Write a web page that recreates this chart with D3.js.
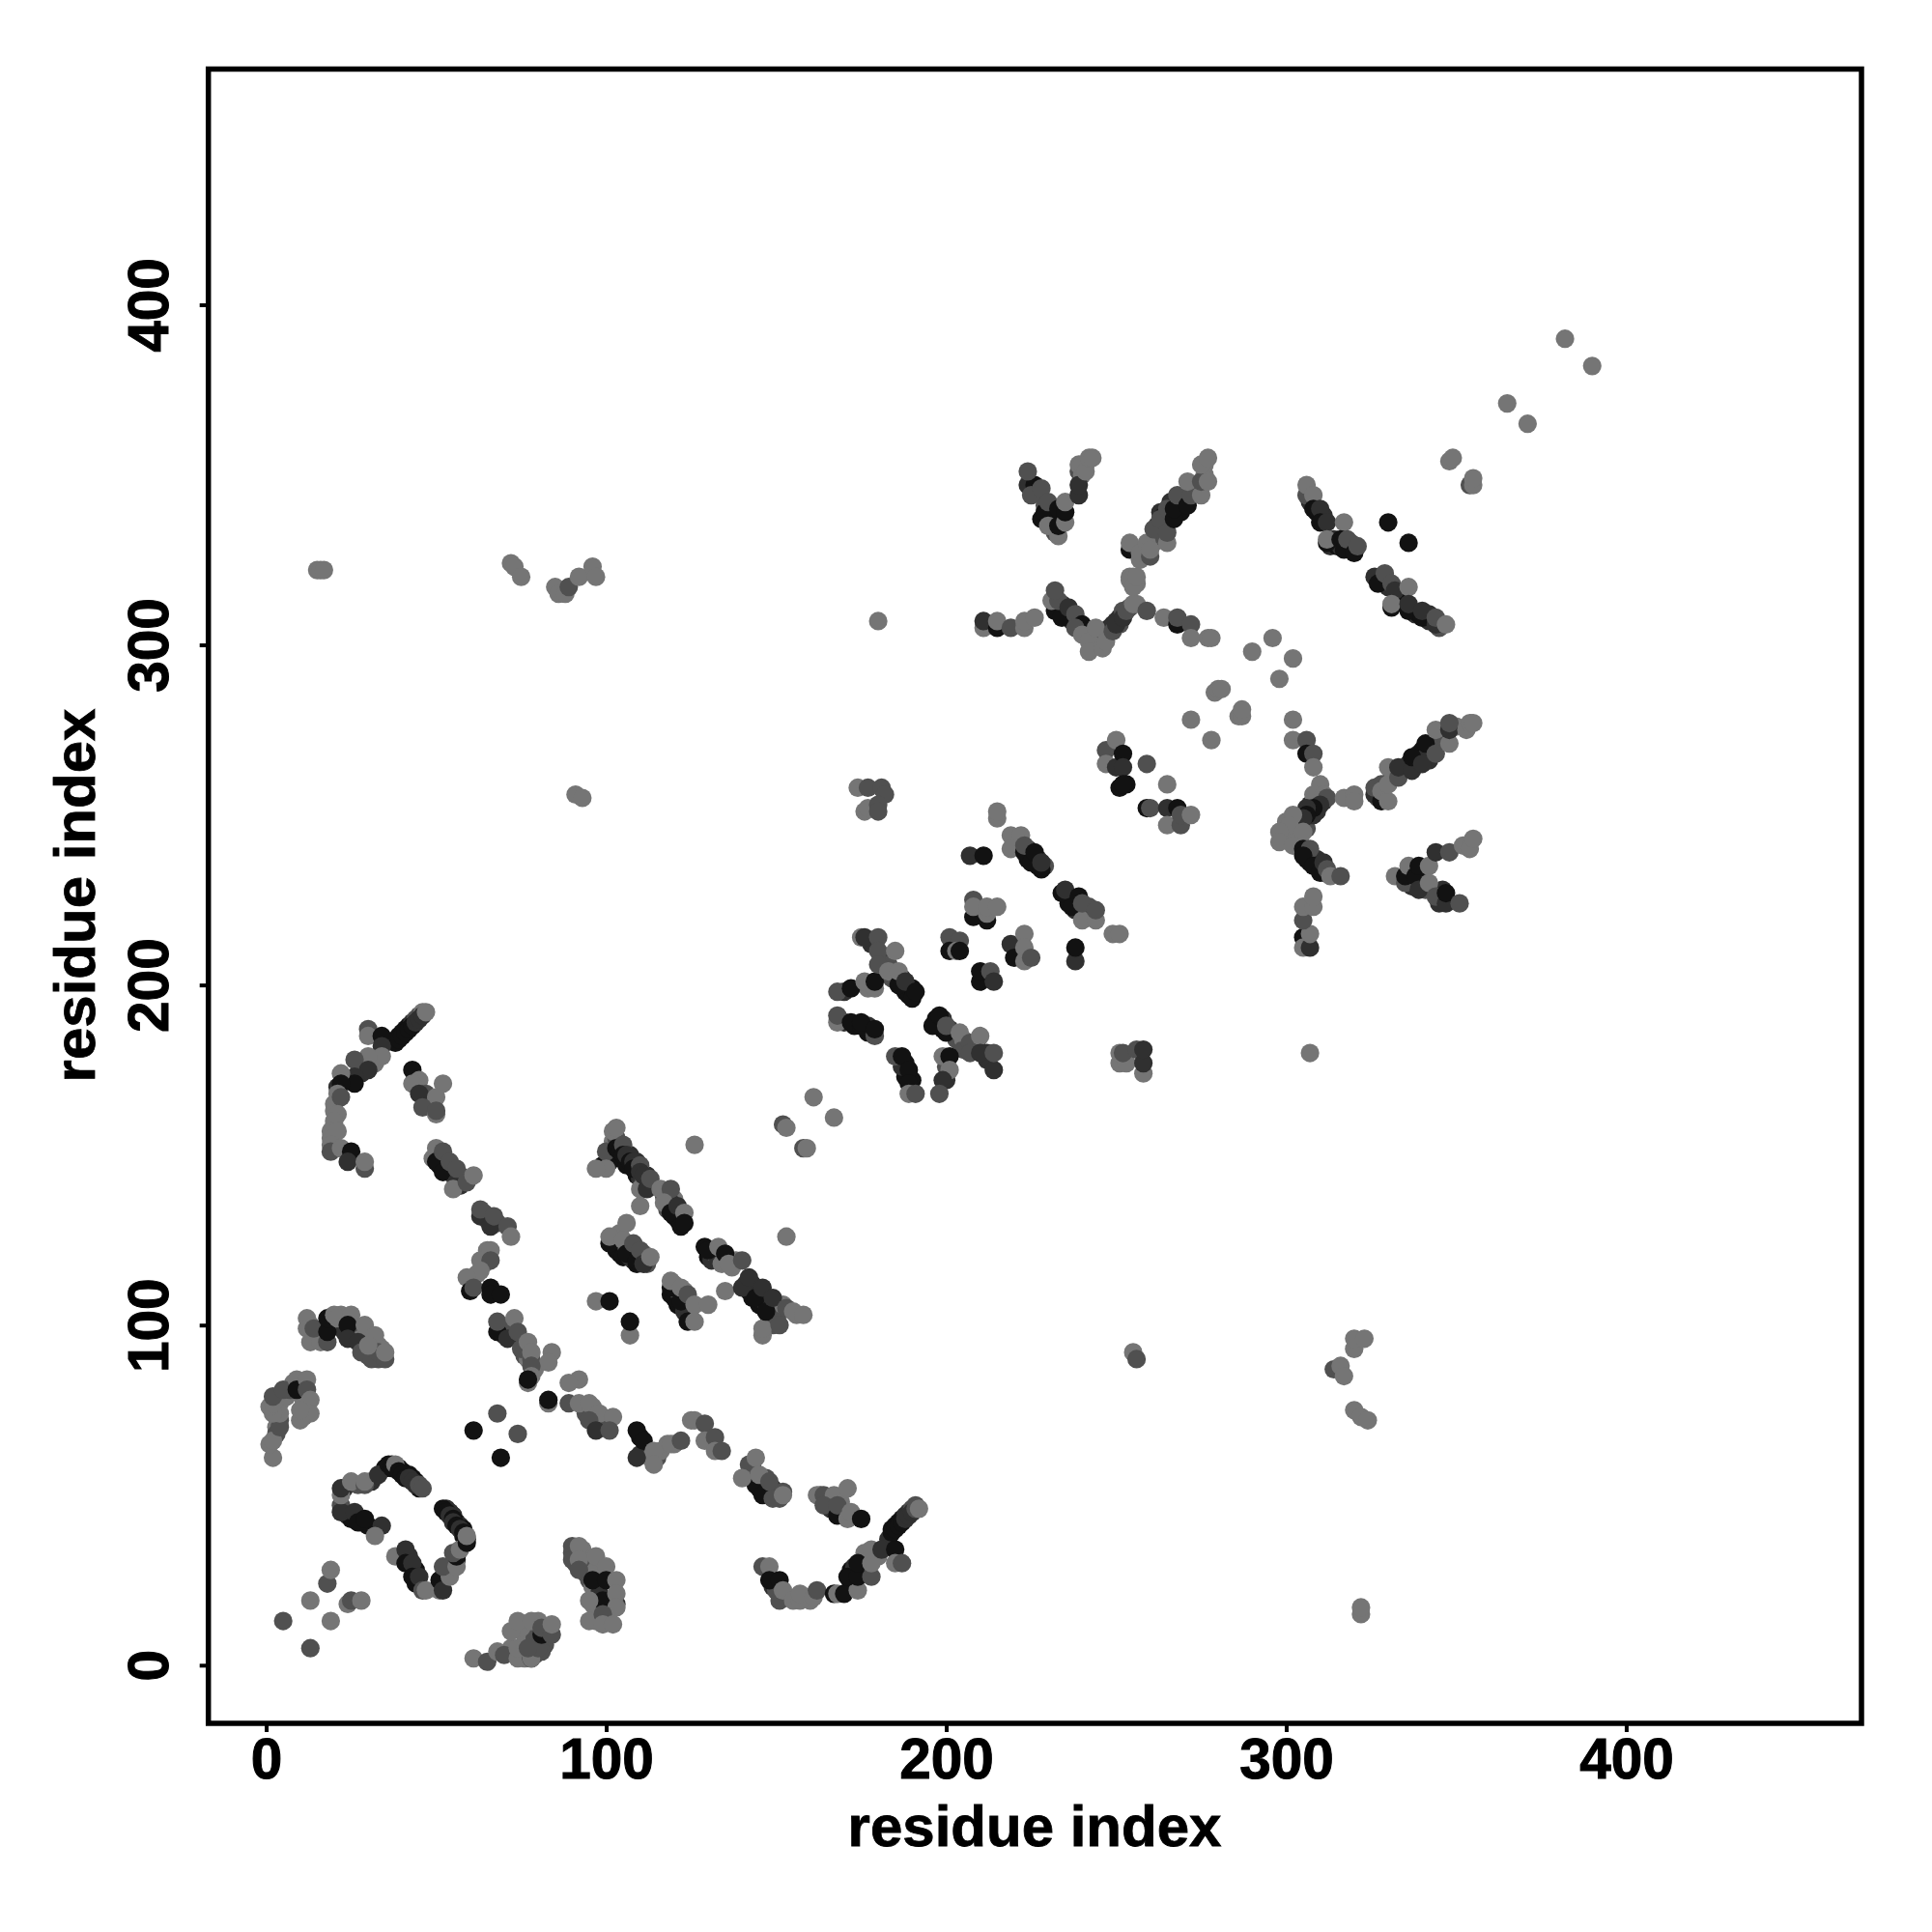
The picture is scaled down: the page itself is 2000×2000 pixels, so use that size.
<!DOCTYPE html>
<html><head><meta charset="utf-8">
<script src="https://cdnjs.cloudflare.com/ajax/libs/d3/7.8.5/d3.min.js"></script>
<style>html,body{margin:0;background:#fff}svg{display:block}text{font-family:"Liberation Sans",Arial,sans-serif;font-weight:700;fill:#000}</style>
</head><body><svg id="c" width="2000" height="2000"></svg>
<script>
// each contact: [residue i, residue j, strength level 1..4]
const xTicks=[0,100,200,300,400];
const yTicks=[0,100,200,300,400];
const axisTitle="residue index";
const denseStrands=[[23,52,3],[27,53,2],[31,54,3],[35,58,4],[37,59,4],[39,58,4],[40,57,4],[41,56,4],[42,56,4],[43,55,4],[44,54,4],[45,52,4],[53,46,3],[54,45,3],[55,44,3],[56,42,4],[57,41,3],[58,40,4],[58,38,4],[59,37,4],[56,31,3],[55,30,2],[53,28,2],[52,26,3],[44,28,4],[42,32,3],[44,24,4],[24,44,3],[25,43,4],[28,42,4],[30,41,4],
[4,72,2],[3,70,1],[3,73,1],[3,78,2],[4,77,1],[6,79,1],[7,81,2],[8,83,1],[11,82,2],[11,78,1],[12,76,1],[11,73,1],[13,100,1],[15,98,1],[16,97,2],[17,96,3],[19,100,3],[20,100,1],[22,103,1],[23,98,3],[25,98,3],[26,97,2],[28,96,1],[29,92,3],[30,91,2],[32,92,2],[33,94,1],[34,93,1],[33,90,2],
[38,183,4],[39,185,4],[40,186,4],[41,187,4],[42,188,4],[43,189,3],[44,190,2],[45,191,2],[46,192,1],[24,172,3],[28,174,3],[28,177,2],[32,177,1],[21,170,3],[20,165,1],[20,163,1],[19,155,1],[20,159,1],[20,152,2],
[50,150,1],[51,149,4],[51,147,4],[53,146,3],[54,146,2],[55,144,2],[57,144,2],[58,143,1],[57,141,3],[65,131,2],[64,133,2],[68,130,2],[65,122,1],[64,118,1],[62,115,1],[70,97,3],[72,100,2],[74,96,2],[76,94,1],[76,91,2],[77,90,1],[78,90,2],[79,87,1],[94,74,2],[96,72,3],[98,71,3],[99,70,2],[96,76,1],[110,67,4],[110,62,3],[115,61,2],[113,61,1],[116,63,1],[118,65,1],[120,65,1],
[143,58,3],[143,56,4],[145,52,4],[147,51,4],[147,55,2],[149,52,3],[150,50,3],[151,49,2],[165,48,2],[166,46,3],[169,45,3],[163,50,2],[169,48,1],[149,23,3],[150,22,2],[153,20,1],[156,20,1],[159,20,1],[160,19,1],[172,24,4],[172,28,4],[173,29,3],[176,28,2],[176,33,1],[183,37,3],[180,32,1],[184,40,4],[185,41,4],[186,42,4],[187,43,4],[188,44,3],[189,45,3],[190,46,2],[191,47,2],
[101,148,3],[102,150,3],[102,154,1],[103,155,2],[104,153,3],[104,149,4],[106,147,4],[107,150,3],[109,148,3],[109,144,4],[110,143,3],[112,142,3],[112,144,3],[111,142,2],[117,138,2],[118,134,2],[118,138,1],[120,132,4],[121,131,4],[120,137,1],[122,133,3],[119,136,3],[103,122,4],[104,121,4],[105,120,4],[106,123,2],[107,122,2],[107,120,3],[108,119,3],[109,118,4],[110,120,2],[111,121,1],[112,119,1],[112,118,2],[103,126,2],[104,127,1],[119,109,4],[120,108,4],[120,112,1],[121,110,2],[121,106,4],[123,108,1],[123,104,3],[123,110,1],[125,105,2],[124,103,3],[130,120,4],[131,119,3],[132,121,2],[133,119,3],[134,118,1],[137,117,1],[138,119,1],[141,112,3],[142,110,4],[143,112,3],[143,108,4],[144,110,3],[145,106,4],[145,109,3],[146,107,4],[147,106,3],[148,102,3],[150,102,2],[151,104,2],[152,106,1],[149,100,2],[156,103,1],
[221,243,1],[224,237,4],[224,240,3],[225,238,4],[226,236,4],[227,237,3],[227,235,4],[229,235,2],[236,226,4],[236,224,4],[238,225,4],[238,222,3],[240,222,3],[242,220,2],[242,223,2],[243,221,3],[170,198,3],[177,199,1],[170,189,3],[173,188,4],[177,186,4],[177,188,3],[178,212,3],[182,208,3],[183,206,2],[184,202,2],[187,202,3],[188,199,4],[188,198,4],[189,197,4],[190,199,4],[197,190,4],[198,188,4],[199,187,4],[199,190,3],[201,187,3],[202,186,2],[203,184,2],[205,184,1],[205,181,2],[209,182,3],[212,180,3],[200,176,2],[200,172,3],[212,178,3],[188,177,4],[188,173,4],[190,172,4],[187,176,3],
[226,345,3],[229,338,3],[231,337,1],[232,333,2],[229,341,2],[233,338,4],[239,351,2],[240,350,1],[241,353,1],[258,328,1],[261,330,1],[262,332,2],[262,335,3],[263,339,3],[264,338,4],[266,342,3],[266,339,4],[269,342,3],[269,339,4],[270,343,3],[273,346,2],[276,350,1],[276,353,1],[234,312,3],[235,309,4],[236,308,4],[237,307,3],[238,307,3],[241,304,2],[243,301,1],[243,303,1],[245,302,1],[246,303,2],[247,304,2],[248,305,3],[249,306,3],[250,307,3],[251,308,3],[251,306,2],[252,310,2],[254,311,2],[256,312,1],[254,320,1],[256,318,1],[255,320,1],
[307,342,3],[309,339,4],[311,338,3],[313,329,3],[314,331,3],[315,329,4],[316,329,3],[319,328,3],[319,330,2],[320,329,3],[328,320,3],[329,319,3],[330,317,3],[333,314,4],[338,309,3],[339,309,4],[342,307,3],[342,309,3],[345,305,2],
[303,249,1],[303,245,1],[304,248,2],[304,243,1],[300,244,1],[300,248,1],[306,246,2],[307,250,3],[307,253,3],[308,250,3],[309,253,3],[309,251,3],[310,255,2],[311,254,3],[306,237,4],[307,236,4],[307,238,3],[309,237,3],[310,235,3],[311,233,3],[338,266,3],[339,268,3],[340,269,4],[341,267,3],[342,270,3],[342,266,3],[345,272,2],[346,274,2],[350,276,1],[332,262,1],[331,261,2],[327,255,2],[326,256,3],[328,259,2],[334,263,2],[336,265,3],[337,229,3],[340,231,3],[341,228,2],[345,224,3],[346,228,3],[337,234,3],
[90,33,2],[91,30,2],[92,33,1],[93,34,1],[93,29,2],[94,27,2],[95,25,2],[96,23,1],[97,28,1],[98,21,3],[97,16,1],[97,13,1],[96,18,1],[101,16,1],[72,5,1],[73,4,1],[75,3,1],[76,2,1],[76,9,1],[79,3,2],[79,8,2],[82,6,2],[81,4,2],[75,11,1],[80,13,1],[82,10,3]];
const lowerLeft=[[5,13,2],[13,5,2],[19,13,1],[13,19,1],[18,24,2],[19,28,1],[24,18,1],[25,19,2],[28,19,1],
[22,47,2],[22,45,3],[22,50,1],[22,52,3],[26,45,3],[27,42,4],[29,43,4],[34,41,3],[32,38,1],[25,54,1],[29,53,2],[29,54,1],[33,56,3],[36,59,4],[37,58,4],[38,59,1],[39,57,4],[40,56,4],[41,55,4],[42,55,3],[43,54,3],[44,53,3],[45,53,2],[46,52,2],
[38,32,1],[41,34,3],[41,30,4],[43,30,3],[43,26,4],[45,26,3],[46,22,2],[47,22,1],[51,22,1],[51,25,4],[52,22,3],[54,26,1],[52,29,2],[56,29,1],[56,32,4],[55,33,2],[57,34,1],[52,46,4],[53,45,4],[54,44,3],[55,43,4],[55,42,3],[56,41,4],[57,40,3],[58,39,4],[59,36,4],[59,38,1]];
const helixLeft=[[2,61,1],[1,65,1],[3,68,2],[2,66,1],[4,70,2],[4,74,1],[2,74,1],[1,76,1],[2,77,1],[2,79,2],[5,81,2],[9,84,1],[9,81,4],[12,84,1],[12,81,2],[13,78,1],[13,74,1],[10,72,1],[10,75,1],[12,102,1],[12,99,1],[13,95,1],[16,95,1],[14,99,2],[18,95,2],[18,98,4],[18,102,4],[20,103,1],[21,102,1],[25,103,1],[24,100,4],[24,96,3],[29,100,1],[27,95,3],[28,92,2],[32,97,1],[31,90,2],[33,92,2],[30,94,1],[35,90,2],[35,92,1]];
const arcTop=[[39,184,4],[40,185,4],[41,186,4],[42,187,4],[43,188,4],[44,189,3],[45,190,3],[46,191,3],[47,192,1],[30,187,2],[30,185,1],[34,185,4],[34,182,3],[34,179,1],[30,179,1],[26,178,2],[30,175,3],[26,173,3],[26,171,4],[22,174,1],[22,171,4],[21,168,1],[22,167,2],[21,162,1],[20,160,1],[19,157,1],[21,157,1],[19,153,1],[19,151,2],[22,152,1],[25,151,4],[24,148,3],[29,146,2],[29,148,1]];
const descending=[[43,175,4],[45,172,1],[43,171,1],[52,171,1],[47,168,2],[45,168,3],[50,167,1],[46,164,2],[50,162,1],[50,163,2],
[49,149,1],[50,152,1],[50,148,4],[52,151,2],[52,145,4],[54,148,2],[56,142,3],[55,140,1],[56,146,2],[59,142,2],[61,144,1],
[63,132,3],[63,134,2],[66,129,3],[67,132,2],[71,129,2],[72,126,1],[66,122,1],[63,119,1],[66,119,2],[63,116,1],[59,114,1],[60,110,4],[61,111,2],[66,111,4],[66,109,4],[69,109,4],
[68,98,4],[68,101,2],[71,96,3],[73,102,1],[74,98,2],[75,93,2],[77,95,1],[78,92,1],[84,92,1],[83,89,1],[78,88,2],[78,85,1],[77,83,1],[77,84,4],
[92,84,1],[89,83,1],[83,77,1],[83,78,4],[89,77,2],[92,77,1],[95,77,1],[98,74,1],[102,73,1],[95,72,2],[97,69,3],[101,69,2],[109,69,4],[111,66,4],[109,61,3],[114,63,1],[114,59,1],[119,65,1],[122,66,2],[125,72,1],
[61,69,4],[68,74,2],[74,68,2],[69,61,4]];
const midStrands=[[126,72,1],[129,71,2],[129,66,1],[132,67,2],[132,63,1],[134,63,2],[144,53,4],[146,50,4],[142,59,2],[144,61,1],[140,55,1],[145,56,1],[148,54,2],[149,49,2],[152,51,2],[152,50,1],
[162,50,1],[164,50,2],[167,50,1],[171,52,1],[164,47,2],[168,44,4],[168,47,2],[171,43,1],[172,45,1],[175,43,4],
[146,29,2],[148,29,1],[148,25,4],[151,25,4],[151,19,2],[152,22,1],[155,19,1],[157,19,1],[157,21,1],[161,20,1],[162,22,2],[167,21,4],[168,21,1],[170,21,4],[174,22,1],[171,26,4],[174,26,4],[178,26,2],[174,30,4],[178,30,1],[178,34,1],[181,34,3],[185,34,4],[185,30,1],[187,30,2],
[184,39,4],[185,40,4],[186,41,4],[187,42,4],[188,43,3],[189,44,3],[190,45,3],[191,46,2],[192,46,1]];
const sheetPairs=[[102,157,1],[103,158,1],[99,147,4],[100,151,2],[100,146,1],[97,146,1],[103,152,4],[104,151,4],[105,153,2],[105,150,4],[106,150,3],[107,148,4],[108,148,3],[108,146,4],[110,147,2],[110,145,3],[110,140,1],[111,144,3],[112,140,3],[113,143,2],[110,135,1],[116,140,1],[119,140,2],[117,136,1],[119,133,4],[121,135,3],[123,133,1],[122,129,4],[123,130,4],
[126,153,1],[152,159,2],[153,158,1],[158,152,2],[159,152,1],[161,167,1],[167,161,1],[153,126,1],
[106,130,1],[101,124,4],[101,126,1],[105,125,1],[106,121,4],[108,124,2],[109,119,4],[110,122,2],[111,118,3],[113,120,1],
[119,111,4],[119,113,1],[122,107,4],[122,111,1],[124,109,2],[124,101,4],[126,106,1],[126,101,1],[130,106,1],[97,107,1],[101,107,4],[107,97,1],[107,101,4],
[129,123,4],[130,122,4],[133,123,1],[135,121,4],[136,118,1],[135,110,1],[140,119,2],[140,111,3],[142,114,3],[144,108,4],[146,111,3],[146,97,1],[146,99,1],[147,104,4],[149,108,3],[151,100,2],[153,105,2],[155,104,1],[158,103,1]];
const centerStrands=[[174,258,1],[177,258,2],[181,258,2],[182,256,2],[176,251,1],[177,252,1],[180,253,2],[180,251,2],
[215,249,1],[215,251,1],[219,244,1],[222,244,1],[219,240,1],[223,239,4],[223,241,2],[225,236,4],[226,239,4],[228,234,4],[228,236,3],
[207,238,3],[211,238,4],[208,220,4],[212,219,4],[208,225,2],[208,223,1],[212,221,1],[212,223,1],[215,223,1],
[201,214,2],[204,213,2],[201,210,4],[203,210,1],[204,210,4],[210,201,4],[210,204,4],[213,204,2],[214,201,3],
[219,212,3],[220,208,4],[223,215,1],[223,211,1],[223,207,1],[225,208,2],[238,207,3],[238,211,4],
[234,227,4],[235,228,3],[237,223,4],[239,226,4],[240,219,1],[240,224,2],[244,219,1],[244,222,2],[249,215,1],[251,215,1],
[168,189,1],[168,191,2],[172,189,4],[175,188,4],[175,189,4],[179,185,2],[179,187,4],[168,198,2],[172,199,4],[176,201,1],[179,199,1],[179,201,4],
[175,214,1],[176,214,3],[180,214,2],[180,210,2],[185,210,1],[180,206,2],[183,204,1],[186,200,4],[186,204,1],[188,201,3],[190,196,4],[191,198,4],
[196,188,4],[198,191,4],[200,186,4],[200,188,2],[204,186,1],[207,183,2],[210,185,1],[207,180,2],[210,180,3],[214,175,3],[214,180,2],
[199,179,1],[201,179,4],[201,175,1],[199,172,3],[198,168,2],[185,179,2],[187,179,4],[189,175,4],[189,171,4],[189,168,1],[191,168,2],
[251,177,1],[251,180,1],[253,177,1],[252,180,2],[256,181,2],[258,174,1],[258,177,3],[258,181,3]];
const upperCenter=[[224,347,3],[226,347,4],[224,351,2],[225,344,2],[228,346,2],[228,337,4],[229,339,4],[230,335,1],[230,342,2],[233,332,1],[233,340,4],[233,335,4],[235,336,1],[235,339,4],[235,342,1],[239,344,3],[239,347,3],[239,353,1],[240,353,1],[241,351,1],[242,355,1],[243,355,1],
[254,328,4],[254,330,1],[257,325,1],[257,327,1],[259,330,1],[260,326,2],[260,328,1],[261,334,2],[263,337,2],[265,330,1],[265,333,2],[265,340,2],[267,337,4],[267,340,4],[268,344,2],[271,341,4],[272,344,2],[271,348,1],[275,344,1],[275,348,2],[277,348,1],[275,353,1],[277,355,1],
[254,319,1],[255,317,1],[256,320,1],[232,310,4],[234,308,4],[231,313,1],[233,313,2],[232,316,2],[236,311,3],[238,309,2],[240,306,4],[238,305,2],[240,303,1],[242,301,1],[242,298,1],[244,305,1],[246,299,1],[247,301,1],[249,304,2],[250,306,3],[252,308,3],[253,310,2],[255,312,1],[259,310,2],
[211,305,1],[211,307,3],[215,305,4],[215,307,1],[219,305,2],[223,305,1],[223,307,1],[226,308,1],[264,308,1],[268,306,4],[268,308,2],[272,306,2],[272,302,1],[277,302,1],[278,302,1],
[290,298,1],[296,302,1],[302,296,1],[298,290,1],[279,286,1],[280,287,1],[281,287,1],[286,279,1],[287,279,1],[287,281,1],[272,278,1],[278,272,1],
[247,269,2],[247,265,1],[250,272,1],[250,264,3],[252,268,4],[252,264,3],[251,258,4],[253,259,4],[259,265,2],[252,259,4],[265,259,1],[259,252,4],[260,252,2],[265,252,3],[265,247,1],[269,247,2],[268,252,4],[269,250,2],[272,250,1]];
const upperRight=[[306,344,2],[306,347,1],[308,344,1],[308,340,4],[310,340,3],[310,336,4],[312,336,3],[317,336,1],[312,330,4],[312,331,1],[316,331,4],[317,328,4],[318,331,2],[320,327,4],[321,329,2],
[330,336,4],[336,330,4],[326,320,3],[327,318,4],[329,321,2],[331,318,2],[332,316,3],[331,311,4],[331,312,1],[336,317,1],[336,310,4],[336,312,3],[340,308,4],[340,310,3],[344,306,3],[344,308,2],[347,306,1],
[348,354,1],[349,355,1],[354,347,2],[355,347,1],[355,349,1],[365,371,1],[371,365,1],[382,390,1],[390,382,1]];
const rightFork=[[302,278,1],[302,272,1],[306,272,2],[306,268,4],[308,268,2],[308,264,1],[310,259,1],[308,256,1],[311,256,1],[312,255,2],[310,253,3],[308,252,4],[306,252,3],[306,250,4],[305,249,3],[302,250,1],[301,247,1],[305,245,1],[298,245,1],[298,242,1],[302,241,1],[305,240,4],[307,240,2],[305,238,4],[308,235,4],[310,233,4],[311,236,3],[312,234,2],[313,232,1],[316,232,2],
[305,214,4],[305,211,1],[307,211,3],[307,215,1],[305,219,2],[305,223,1],[308,223,1],[308,226,1],[307,180,1],
[317,255,1],[320,256,1],[320,254,1],[326,258,2],[328,254,4],[328,257,1],[330,254,1],[330,259,1],[330,264,1],[333,261,2],[333,264,3],[337,263,3],[337,267,4],[340,265,3],[341,271,4],[344,268,2],[344,275,1],[348,271,1],[348,275,3],[348,277,2],[353,275,1],[354,277,1],[355,277,1],
[332,232,1],[335,230,2],[335,232,4],[336,235,1],[338,232,4],[339,235,4],[339,228,3],[342,235,1],[342,230,1],[344,226,2],[344,239,3],[347,224,3],[347,227,4],[348,239,2],[351,224,2],[352,241,1],[354,240,1],[355,243,1]];
const sparse=[[15,322,1],[16,322,1],[17,322,1],[72,324,1],[73,323,1],[75,320,1],[85,317,1],[86,315,1],[88,315,1],[89,317,2],[92,320,1],[96,323,1],[97,320,1],[91,256,1],[93,255,1],[180,307,1],[255,92,1],[256,90,2],[314,87,2],[316,88,1],[317,85,1],[320,93,1],[320,96,1],[323,96,1],[320,75,1],[322,73,1],[324,72,1],[322,15,1],[322,17,1],
[61,2,1],[65,1,2],[68,4,1],[70,3,2],[74,2,1],[78,2,4],[78,2,1],[74,5,1],[80,5,2],[77,5,2],[81,9,4],[72,10,1],[74,13,1],[78,13,1],[81,11,2],[84,9,2],[84,12,1],
[90,35,2],[90,31,2],[92,35,1],[92,31,1],[92,28,2],[97,32,1],[96,25,4],[100,29,1],[100,25,4],[103,18,3],[99,19,4],[103,25,1],[103,21,1],[103,17,1],[95,19,1],[95,13,1],[99,15,2],[99,12,1],[102,12,1]];
const contacts=[].concat(denseStrands,lowerLeft,helixLeft,arcTop,descending,midStrands,sheetPairs,centerStrands,upperCenter,upperRight,rightFork,sparse);

const svg=d3.select("#c");
const x=d3.scaleLinear().domain([-17,469.2]).range([215.7,1927]);
const y=d3.scaleLinear().domain([-17.1,469.3]).range([1784,71.5]);
const shade=d3.scaleOrdinal().domain([1,2,3,4]).range(["#757575","#505050","#303030","#121212"]);

svg.append("g").selectAll("circle").data(contacts).join("circle")
  .attr("cx",d=>x(d[0])).attr("cy",d=>y(d[1])).attr("r",9.6).attr("fill",d=>shade(d[2]));

svg.append("rect").attr("x",x.range()[0]).attr("y",y.range()[1])
  .attr("width",x.range()[1]-x.range()[0]).attr("height",y.range()[0]-y.range()[1])
  .attr("fill","none").attr("stroke","#000").attr("stroke-width",5.5);

const gx=svg.append("g").attr("transform",`translate(0,${y.range()[0]+2})`)
  .call(d3.axisBottom(x).tickValues(xTicks).tickSize(7).tickPadding(12));
const gy=svg.append("g").attr("transform",`translate(${x.range()[0]-2},0)`)
  .call(d3.axisLeft(y).tickValues(yTicks).tickSize(7).tickPadding(12));
for(const g of [gx,gy]){
  g.select(".domain").remove();
  g.selectAll(".tick line").attr("stroke","#000").attr("stroke-width",4);
  g.selectAll("text").attr("font-size",58.5).style("font-family",'"Liberation Sans",Arial,sans-serif').style("font-weight",700).attr("fill","#000").attr("stroke","#000").attr("stroke-width",1);
}
gx.selectAll("text").attr("dy",null).attr("y",null).attr("dominant-baseline","alphabetic").attr("transform","translate(0,55)");
gy.selectAll("text").attr("dy",null).attr("x",null).attr("text-anchor","middle")
  .attr("transform","translate(-40,0) rotate(-90)");

svg.append("text").attr("x",1071).attr("y",1911).attr("text-anchor","middle").attr("font-size",60).attr("stroke","#000").attr("stroke-width",0.8).text(axisTitle);
svg.append("text").attr("transform","translate(98,927) rotate(-90)").attr("text-anchor","middle").attr("font-size",60).attr("stroke","#000").attr("stroke-width",0.8).text(axisTitle);
</script></body></html>
